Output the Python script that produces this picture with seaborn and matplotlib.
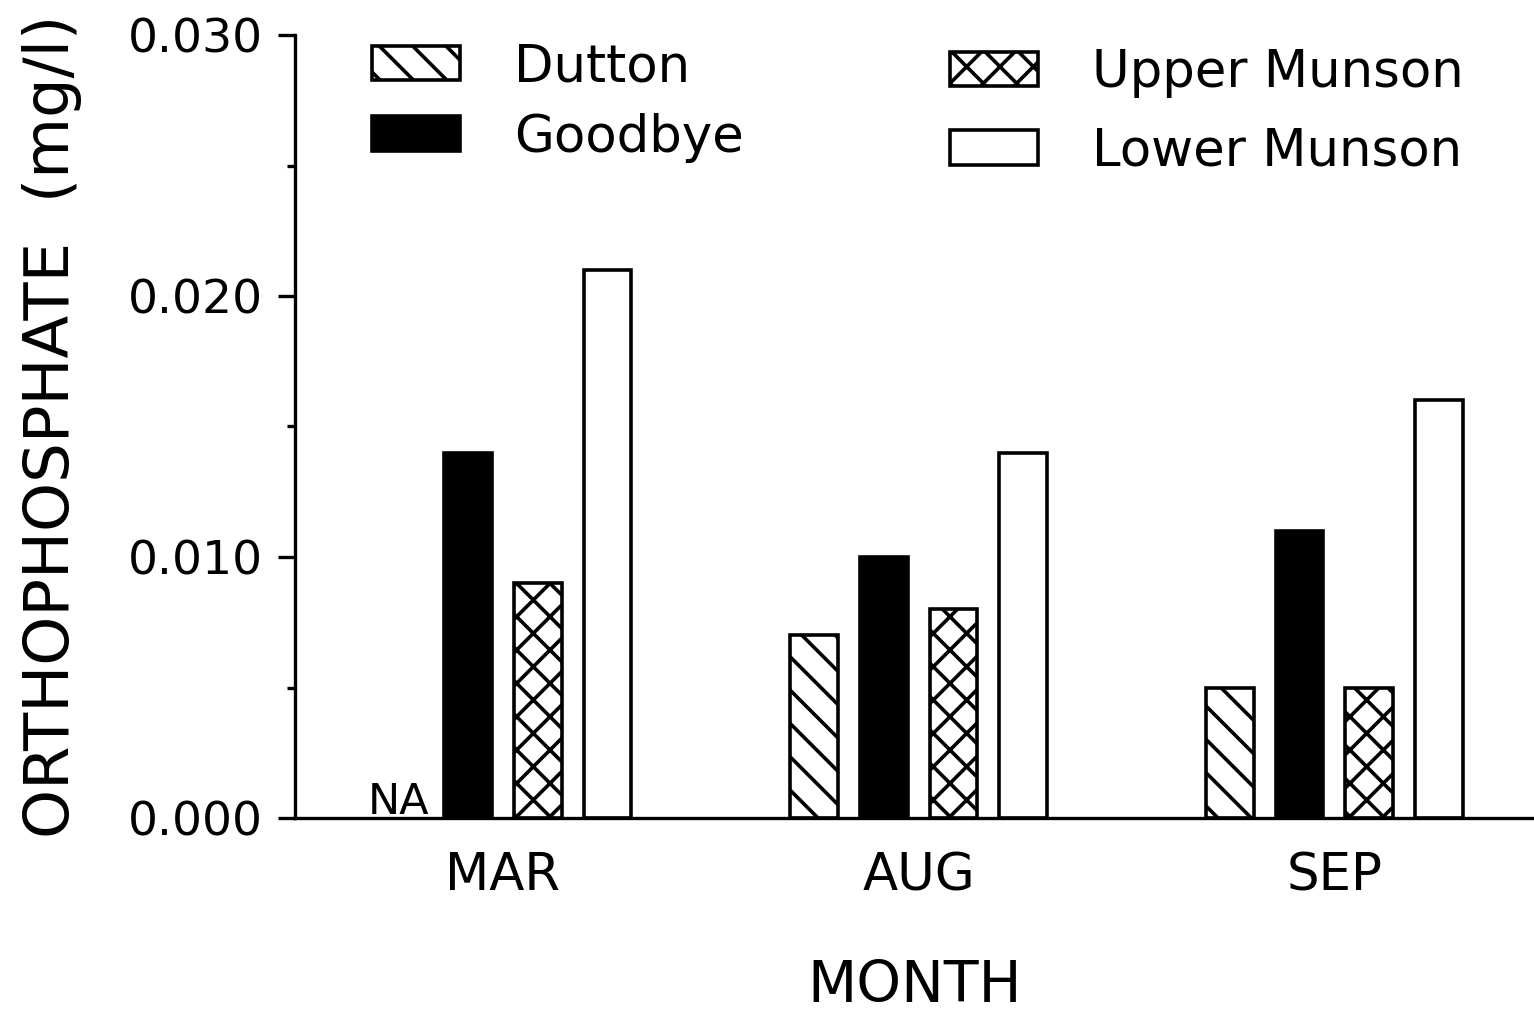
import numpy as np
import pandas as pd
import matplotlib
matplotlib.use("Agg")
import matplotlib.pyplot as plt
import matplotlib.patches as mpatches
from matplotlib.ticker import MultipleLocator, FormatStrFormatter
import seaborn as sns

# ---- data ----
months = ["MAR", "AUG", "SEP"]
sites = ["Dutton", "Goodbye", "Upper Munson", "Lower Munson"]
dutton = [np.nan, 0.007, 0.005]
goodbye = [0.014, 0.010, 0.011]
upper_munson = [0.009, 0.008, 0.005]
lower_munson = [0.021, 0.014, 0.016]
y_ticks = [0.000, 0.010, 0.020, 0.030]
na_label = "NA"

series = {"Dutton": dutton, "Goodbye": goodbye,
          "Upper Munson": upper_munson, "Lower Munson": lower_munson}
rows = []
for s in sites:
    for m, v in zip(months, series[s]):
        rows.append({"month": m, "site": s, "value": v})
df = pd.DataFrame(rows)

# ---- style ----
sns.set_style("ticks")
plt.rcParams["font.family"] = ["DejaVu Sans"]
plt.rcParams["hatch.linewidth"] = 2.6
plt.rcParams["axes.linewidth"] = 2.4
for k in ["text.color", "axes.labelcolor", "xtick.color", "ytick.color",
          "axes.edgecolor"]:
    plt.rcParams[k] = "black"

facecolors = {"Dutton": "white", "Goodbye": "black",
              "Upper Munson": "white", "Lower Munson": "white"}
hatches = {"Dutton": "\\", "Goodbye": "", "Upper Munson": "x", "Lower Munson": ""}
EDGE_LW = 2.6

W, H = 1534, 1011
fig = plt.figure(figsize=(W / 100, H / 100), dpi=100)
ax = fig.add_axes([295 / W, (H - 818) / H, (W - 295) / W, 783 / H])

sns.barplot(data=df, x="month", y="value", hue="site", order=months,
            hue_order=sites, palette=facecolors, width=0.671, gap=0.315,
            edgecolor="black", linewidth=EDGE_LW, saturation=1, legend=False,
            errorbar=None, ax=ax)

for cont, s in zip(ax.containers, sites):
    for p in cont:
        p.set_hatch(hatches[s])
        p.set_edgecolor("black")
        p.set_linewidth(EDGE_LW)

# NA label at Dutton / MAR position
gb = ax.containers[1][0]
um = ax.containers[2][0]
pitch = um.get_x() - gb.get_x()
na_x = gb.get_x() + gb.get_width() / 2 - pitch
ax.annotate(na_label, xy=(na_x, 0), xytext=(0, 3), textcoords="offset points",
            ha="center", va="baseline", fontsize=31)

ax.set_xlim(-0.5, 2.48)
ax.set_ylim(0, 0.030)
ax.set_yticks(y_ticks)
ax.yaxis.set_major_formatter(FormatStrFormatter("%.3f"))
ax.yaxis.set_minor_locator(MultipleLocator(0.005))
ax.tick_params(axis="y", which="major", length=12, width=2.4, pad=11,
               labelsize=34, direction="out")
ax.tick_params(axis="y", which="minor", length=6, width=2.4, direction="out")
ax.tick_params(axis="x", which="both", length=0, pad=24, labelsize=37)

sns.despine(ax=ax, top=True, right=True)

ax.set_xlabel("MONTH", fontsize=41)
ax.xaxis.set_label_coords(0.5, -0.18)
ax.set_ylabel("ORTHOPHOSPHATE  (mg/l)", fontsize=45)
ax.yaxis.set_label_coords(-0.172, 0.5)

def mk(s):
    return mpatches.Patch(facecolor=facecolors[s], edgecolor="black",
                          hatch=hatches[s], linewidth=EDGE_LW)

leg1 = fig.legend(handles=[mk("Dutton"), mk("Goodbye")],
                  labels=["Dutton", "Goodbye"], loc="upper left",
                  bbox_to_anchor=(372 / W, 1 - 42 / H), frameon=False,
                  fontsize=37, handlelength=1.72, handleheight=0.66,
                  handletextpad=1.05, labelspacing=0.40, borderpad=0,
                  borderaxespad=0)
leg2 = fig.legend(handles=[mk("Upper Munson"), mk("Lower Munson")],
                  labels=["Upper Munson", "Lower Munson"], loc="upper left",
                  bbox_to_anchor=(950 / W, 1 - 48 / H), frameon=False,
                  fontsize=37, handlelength=1.72, handleheight=0.66,
                  handletextpad=1.05, labelspacing=0.55, borderpad=0,
                  borderaxespad=0)

fig.savefig("out.png", dpi=100)
